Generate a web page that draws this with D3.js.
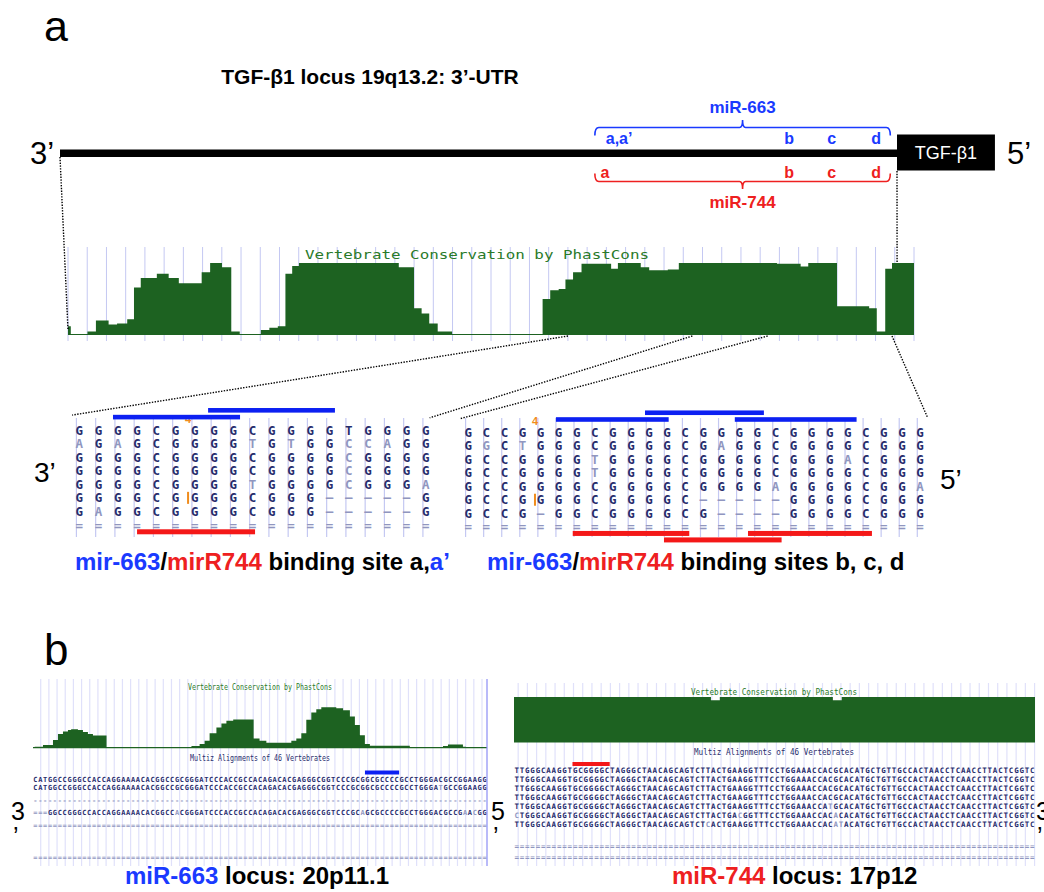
<!DOCTYPE html>
<html>
<head>
<meta charset="utf-8">
<script src="https://cdn.jsdelivr.net/npm/d3@7"></script>
<style>
  body { margin: 0; background: #fff; }
  svg { display: block; }
  .sans { font-family: "Liberation Sans", Arial, sans-serif; }
  .mono { font-family: "DejaVu Sans Mono", monospace; }
</style>
</head>
<body>
<svg id="figure" width="1044" height="892"></svg>
<script>
// ---------- data ----------

// 3'-UTR schematic, positions in % of the UTR (3' end = 0)
const utrGene = [100, 111.7];
const mir663Span = [63.9, 99.2];
const mir744Span = [63.9, 99.2];
const mir663Sites = ["a,a\u2019", "b", "c", "d"];
const mir663SitePos = [66.8, 87.1, 92.2, 97.5];
const mir744Sites = ["a", "b", "c", "d"];
const mir744SitePos = [65.1, 87.1, 92.2, 97.5];

// PhastCons over the UTR: step start (%) and score (0..1)
const consUtrPos = [0, 0.33, 2.3, 3.3, 4.8, 5.8, 7.0, 7.8, 8.6, 10.5, 11.9, 13.1, 15.8, 16.8, 18.2, 19.3, 20.3, 22.8, 23.8, 24.8,
  25.7, 26.5, 27.3, 39.1, 40.9, 41.8, 42.7, 43.7, 45.4, 56.1, 57.0, 58.0, 58.8, 59.7, 60.7, 64.2, 65.0, 67.7, 68.7, 70.9,
  72.2, 83.8, 86.6, 87.5, 90.9, 94.7, 95.6, 96.6, 97.4, 100];
const consUtrScore = [0.12, 0.014, 0.05, 0.2, 0.145, 0.16, 0.22, 0.66, 0.79, 0.85, 0.79, 0.72, 0.87, 1.0, 0.94, 0.05, 0.014, 0.07, 0.1, 0.12,
  0.85, 0.96, 1.0, 0.94, 0.37, 0.3, 0.16, 0.05, 0.014, 0.5, 0.62, 0.64, 0.77, 0.87, 0.99, 0.92, 1.0, 0.94, 0.9, 0.91,
  1.0, 0.99, 0.95, 1.0, 0.4, 0.37, 0.05, 0.92, 1.0, 1.0];

// windows of the track that are expanded below (%)
const zoomWindows = [[59.1, 73.8], [82.7, 97.4]];

// base alignments; lower case = diverged base (faded)
const alignSiteA = [
  "GGGGCGGGGCGGGGTGGGG",
  "aGaGCGGGGtGtGGccaGG",
  "GGGGCGGGGCGGGGcGGGG",
  "GGGGCGGGGCGGGGcGGGG",
  "GGGGCGGGGtGGGGcGGGa",
  "GGGGCGGGGCGGG-----G",
  "GaGGCGGGGCGGG-----G",
  "==================="
];
const alignSiteBCD = [
  "GCCGGGGCGGGGCGGGGCGGGGCGGG",
  "GgCtGGGCGGGGCGaGGCGGGGCGGG",
  "GCCGGGGtGGGGCGGGGCGGGaCGGG",
  "GCCGGGGtGGGGCGGGGCGGGGCGGG",
  "GCCGGGGCGGGGCGGGGaGGGGCGGa",
  "GCCGGGGCGGGGC-----GGGGCGGG",
  "GCCG-GGCGGGGCG----GGGGCGGG",
  "=========================="
];
// insertion marks [column, row]
const insertSiteA = [5.65, 5];
const insertSiteBCD = [3.69, 5];
// seed matches [from column, to column, track]
const mir663BarsA = [[1.75, 8.35, 1], [6.69, 13.28, 0]];
const mir744BarsA = [[3.0, 9.13, 0]];
const mir663BarsBCD = [[4.85, 11.09, 1], [9.78, 16.36, 0], [14.75, 21.49, 1]];
const mir744BarsBCD = [[5.78, 12.23, 0], [10.83, 17.34, 1], [15.48, 22.34, 0]];

// miR-663 locus (20p11.1)
const cons663Pos = [0, 0.37, 2.2, 4.4, 5.5, 6.6, 7.7, 8.4, 9.9, 11.0, 12.1, 13.2, 16.2, 33.8, 34.9, 36.7, 37.8, 38.9, 40.4, 41.5,
  42.6, 44.1, 48.6, 49.9, 51.4, 56.9, 58.0, 59.1, 60.2, 61.3, 62.4, 63.5, 66.8, 68.3, 69.8, 70.9, 72.0, 73.1, 74.2, 83.0,
  90.3, 91.4, 94.7, 95.4, 100];
const cons663Score = [0, 0.025, 0.066, 0.19, 0.34, 0.40, 0.44, 0.455, 0.44, 0.39, 0.34, 0.30, 0, 0.008, 0.04, 0.09, 0.17, 0.36, 0.50, 0.60,
  0.67, 0.70, 0.23, 0.17, 0.12, 0.17, 0.23, 0.36, 0.69, 0.87, 0.95, 1.0, 0.975, 0.93, 0.77, 0.56, 0.31, 0.09, 0.05, 0,
  0.04, 0.08, 0.025, 0, 0];
const seq663 = [
  "CATGGCCGGGCCACCAGGAAAACACGGCCGCGGGATCCCACCGCCACAGACACGAGGGCGGTCCCGCGGCGCCCCGCCTGGGACGCCGGAAGG",
  "CATGGCCGGGCCACCAGGAAAACACGGCCGCGGGATCCCACCGCCACAGACACGAGGGCGGTCCCGCGGCGCCCCGCCTGGGAtGCCGGAAGG",
  "---------------------------------------------------------------------------------------------",
  "===GGCCGGGCCACCAGGAAAACACGGCCaCGGGATCCCACCGCCACAGACACGAGGGCGGTCCCGCaGCGCCCCGCCTGGGACGCCGaAcGG",
  "=============================================================================================",
  "============================================================================================="
];
const seq663Rows = [0, 1, 2.47, 3.88, 5.47, 9.18];
const seq663Bar = [68, 75];

// miR-744 locus (17p12)
const cons744Pos = [0, 37.8, 39.5, 61.2, 62.9, 100];
const cons744Score = [1, 0.93, 1, 0.93, 1, 1];
const seq744 = [
  "TTGGGCAAGGTGCGGGGCTAGGGCTAACAGCAGTCTTACTGAAGGTTTCCTGGAAACCACGCACATGCTGTTGCCACTAACCTCAACCTTACTCGGTC",
  "TTGGGCAAGGTGCGGGGCTAGGGCTAACAGCAGTCTTACTGAAGGTTTCCTGGAAACCACGCACATGCTGTTGCCACTAACCTCAACCTTACTCGGTC",
  "TTGGGCAAGGTGCGGGGCTAGGGCTAACAGCAGTCTTACTGAAGGTTTCCTGGAAACCACGCACATGCTGTTGCCACTAACCTCAACCTTACTCGGTC",
  "TTGGGCAAGGTGCGGGGCTAGGGCTAACAGCAGTCTTACTGAAGGTTTCCTGGAAACCACGCACATGCTGTTGCCACTAACCTCAACCTTACTCGGTC",
  "TTGGGCAAGGTGCGGGGCTAGGGCTAACAGCAGTCTTACTGAAGGTTTCCTGGAAACCAtGCACATGCTGTTGCCACTAACCTCAACCTTACTCGGTC",
  "cTGGGCAAGGTGCGGGGCTAGGGCTAACAGCAGTCTTACTGAcGGTTTCCTGGAAACCACaCACATGCTGTTGCCACTAACCTCAACCTTACTCGGTC",
  "TTGGGCAAGGTGCGGGGCTAGGGCTAACAGCAGTCTcACTGAAGGTTTCCTGGAAACCACatACATGCTGTTGCCACTAACCTCAACCTTACTCGGTC",
  "==================================================================================================",
  "=================================================================================================="
];
const seq744Rows = [0, 1, 2, 3, 4, 5, 6, 8.5, 9.7];
const seq744Bar = [11, 18];

// ---------- drawing ----------
const colors = {
  navy: "#272c6c", faded: "#9096bf", grid: "#c4c8f2", gridLight: "#e0e1fa",
  green: "#1d6221", blue: "#1a3aff", red: "#ee2020",
  barBlue: "#0c20f2", barRed: "#f41818", orange: "#f08c1c"
};
const svg = d3.select("#figure");

function label(parent, x, y, txt, size, opts = {}) {
  return parent.append("text").attr("class", opts.mono ? "mono" : "sans")
    .attr("x", x).attr("y", y)
    .attr("font-size", size)
    .attr("font-weight", opts.bold ? "bold" : null)
    .attr("text-anchor", opts.anchor || "start")
    .attr("fill", opts.fill || "#000")
    .text(txt);
}

function dotted(x1, y1, x2, y2) {
  svg.append("line")
    .attr("x1", x1).attr("y1", y1).attr("x2", x2).attr("y2", y2)
    .attr("stroke", "#000").attr("stroke-width", 1.4)
    .attr("stroke-dasharray", "1.4,1.4");
}

function isFaded(c) {
  return c === "-" || c === "=" || c !== c.toUpperCase();
}

// ---- panel a: UTR schematic ----
label(svg, 44, 41, "a", 43);
label(svg, 370, 84, "TGF-\u03b21 locus 19q13.2: 3\u2019-UTR", 21, {bold: true, anchor: "middle"});

const utrX = d3.scaleLinear().domain([0, 100]).range([60, 897]);

svg.append("rect")
  .attr("x", utrX(0)).attr("y", 149.5)
  .attr("width", utrX(100) - utrX(0)).attr("height", 7.5)
  .attr("fill", "#000");
svg.append("rect")
  .attr("x", utrX(utrGene[0])).attr("y", 134.5)
  .attr("width", utrX(utrGene[1]) - utrX(utrGene[0])).attr("height", 36)
  .attr("fill", "#000");
label(svg, (utrX(utrGene[0]) + utrX(utrGene[1])) / 2, 159, "TGF-\u03b21", 18, {anchor: "middle", fill: "#fff"});
label(svg, 30, 164, "3\u2019", 31);
label(svg, 1007, 164, "5\u2019", 31);

function bracket(span, y, dir, color) {
  const x0 = utrX(span[0]), x1 = utrX(span[1]), xm = (x0 + x1) / 2;
  const hook = 8 * dir, tip = -7.5 * dir;
  svg.append("path")
    .attr("d", `M${x0},${y + hook} Q${x0},${y} ${x0 + 4},${y} L${xm - 3},${y} Q${xm},${y} ${xm},${y + tip}` +
               ` Q${xm},${y} ${xm + 3},${y} L${x1 - 4},${y} Q${x1},${y} ${x1},${y + hook}`)
    .attr("fill", "none").attr("stroke", color).attr("stroke-width", 1.6);
  return xm;
}
const mid663 = bracket(mir663Span, 127.5, 1, colors.blue);
const mid744 = bracket(mir744Span, 181.5, -1, colors.red);
label(svg, mid663, 113, "miR-663", 17, {bold: true, anchor: "middle", fill: colors.blue});
label(svg, mid744, 208, "miR-744", 17, {bold: true, anchor: "middle", fill: colors.red});

svg.append("g").selectAll("text").data(mir663Sites).join("text")
  .attr("class", "sans").attr("font-size", 16).attr("font-weight", "bold")
  .attr("text-anchor", "middle").attr("fill", colors.blue)
  .attr("x", (d, i) => utrX(mir663SitePos[i])).attr("y", 144)
  .text(d => d);
svg.append("g").selectAll("text").data(mir744Sites).join("text")
  .attr("class", "sans").attr("font-size", 16).attr("font-weight", "bold")
  .attr("text-anchor", "middle").attr("fill", colors.red)
  .attr("x", (d, i) => utrX(mir744SitePos[i])).attr("y", 178)
  .text(d => d);

// ---- panel a: conservation track ----
const consX = d3.scaleLinear().domain([0, 100]).range([68, 914]);
const consY = d3.scaleLinear().domain([0, 1]).range([335, 263]);

svg.append("g").selectAll("line").data(d3.range(0, 45)).join("line")
  .attr("x1", i => consX(i * 100 / 44)).attr("x2", i => consX(i * 100 / 44))
  .attr("y1", 247).attr("y2", 341)
  .attr("stroke", colors.grid).attr("stroke-width", 1);

label(svg, 305, 259, "Vertebrate Conservation by PhastCons", 12, {mono: true, fill: "#2a7a2a"})
  .attr("textLength", 344).attr("lengthAdjust", "spacingAndGlyphs");

const consUtr = consUtrPos.map((p, i) => ({p, v: consUtrScore[i]}));
svg.append("path")
  .datum(consUtr)
  .attr("fill", colors.green)
  .attr("d", d3.area().curve(d3.curveStepAfter)
    .x(d => consX(d.p)).y0(consY(0)).y1(d => consY(d.v)));

dotted(utrX(0), 157, consX(0), 330);
dotted(utrX(100), 171, consX(98), 263);

// ---- panel a: alignments ----
const colA = d3.scaleLinear().domain([0, 18]).range([79.3, 425.8]);
const rowA = d3.scaleLinear().domain([0, 7]).range([430, 525]);
const colBCD = d3.scaleLinear().domain([0, 25]).range([468.3, 920]);
const rowBCD = d3.scaleLinear().domain([0, 7]).range([432.3, 526.7]);

dotted(consX(zoomWindows[0][0]), 336, colA(-0.37), rowA(-1.1));
dotted(consX(zoomWindows[0][1]), 336, colA(18.2), rowA(-0.9));
dotted(consX(zoomWindows[1][0]), 336, colBCD(-0.48), rowBCD(-1.0));
dotted(consX(zoomWindows[1][1]), 336, colBCD(25.4), rowBCD(-1.15));

function drawAlignment(rows, col, row, insert, blueBars, redBars) {
  const g = svg.append("g");
  const ncol = rows[0].length;
  g.append("g").selectAll("line").data(d3.range(0, ncol)).join("line")
    .attr("x1", i => col(i - 0.15)).attr("x2", i => col(i - 0.15))
    .attr("y1", 418).attr("y2", 537)
    .attr("stroke", colors.grid).attr("stroke-width", 1.2);

  rows.forEach((r, ri) => {
    g.append("g").selectAll("text").data(r.split("")).join("text")
      .attr("class", "mono").attr("font-size", 12.5).attr("font-weight", "bold")
      .attr("text-anchor", "middle").attr("dy", "0.36em")
      .attr("x", (c, i) => col(i)).attr("y", row(ri))
      .attr("fill", c => isFaded(c) ? colors.faded : colors.navy)
      .text(c => c === "-" ? "\u2013" : c.toUpperCase());
  });

  // insertion: count above, tick in the row
  label(g, col(insert[0]), row(-0.55), "4", 11, {bold: true, anchor: "middle", fill: colors.orange});
  g.append("rect")
    .attr("x", col(insert[0]) - 1).attr("y", row(insert[1]) - 6)
    .attr("width", 2).attr("height", 12)
    .attr("fill", colors.orange);

  const trackBlue = [row(-1.45), row(-0.95)];
  const trackRed = [row(7.5), row(7.98)];
  g.append("g").selectAll("rect").data(blueBars).join("rect")
    .attr("x", d => col(d[0])).attr("width", d => col(d[1]) - col(d[0]))
    .attr("y", d => trackBlue[d[2]] - 2.3).attr("height", 4.6)
    .attr("fill", colors.barBlue);
  g.append("g").selectAll("rect").data(redBars).join("rect")
    .attr("x", d => col(d[0])).attr("width", d => col(d[1]) - col(d[0]))
    .attr("y", d => trackRed[d[2]] - 2.5).attr("height", 5)
    .attr("fill", colors.barRed);
}
drawAlignment(alignSiteA, colA, rowA, insertSiteA, mir663BarsA, mir744BarsA);
drawAlignment(alignSiteBCD, colBCD, rowBCD, insertSiteBCD, mir663BarsBCD, mir744BarsBCD);

label(svg, 34, 482, "3\u2019", 28);
label(svg, 940, 489, "5\u2019", 28);

function caption(x, y, parts, size) {
  const t = svg.append("text").attr("class", "sans")
    .attr("x", x).attr("y", y).attr("font-size", size).attr("font-weight", "bold");
  parts.forEach(p => t.append("tspan").attr("fill", p[1]).text(p[0]));
}
caption(75, 570, [["mir-663", colors.blue], ["/", "#000"], ["mirR744", colors.red],
  [" binding site a,", "#000"], ["a\u2019", colors.blue]], 24);
caption(487, 570, [["mir-663", colors.blue], ["/", "#000"], ["mirR744", colors.red],
  [" binding sites b, c, d", "#000"]], 24);

// ---- panel b ----
label(svg, 44, 665, "b", 44);

function drawLocus(opts) {
  const g = svg.append("g");
  const x = d3.scaleLinear().domain([0, 100]).range(opts.xRange);
  const y = d3.scaleLinear().domain([0, 1]).range(opts.yRange);
  const sx = d3.scaleLinear().domain([0, opts.seqs[0].length]).range(opts.xRange);
  const sy = d3.scaleLinear().domain([0, 1]).range([opts.seqTop, opts.seqTop + opts.rowStep]);

  g.append("g").selectAll("line").data(d3.range(opts.gridStart, 100, opts.gridStep)).join("line")
    .attr("x1", d => x(d)).attr("x2", d => x(d))
    .attr("y1", opts.gridTop).attr("y2", 866)
    .attr("stroke", colors.gridLight).attr("stroke-width", 1.2);

  const pts = opts.consPos.map((p, i) => ({p, v: opts.consScore[i]}));
  g.append("path").datum(pts)
    .attr("fill", colors.green)
    .attr("d", d3.area().curve(d3.curveStepAfter)
      .x(d => x(d.p)).y0(y(0)).y1(d => y(d.v)));
  g.append("line")
    .attr("x1", x(0)).attr("x2", x(100)).attr("y1", y(0)).attr("y2", y(0))
    .attr("stroke", colors.green).attr("stroke-width", 1.2);

  label(g, opts.titleX[0], opts.titleY, "Vertebrate Conservation by PhastCons", 8, {mono: true, fill: "#2a7a2a"})
    .attr("textLength", opts.titleX[1] - opts.titleX[0]).attr("lengthAdjust", "spacingAndGlyphs");
  label(g, opts.multizX[0], opts.multizY, "Multiz Alignments of 46 Vertebrates", 8, {mono: true, fill: colors.navy})
    .attr("textLength", opts.multizX[1] - opts.multizX[0]).attr("lengthAdjust", "spacingAndGlyphs");

  opts.seqs.forEach((s, ri) => {
    g.append("g").selectAll("text").data(s.split("")).join("text")
      .attr("class", "mono").attr("font-size", opts.seqFont).attr("font-weight", "bold")
      .attr("text-anchor", "middle").attr("dy", "0.36em")
      .attr("x", (c, i) => sx(i + 0.5)).attr("y", sy(opts.seqRows[ri]))
      .attr("fill", c => isFaded(c) ? colors.faded : colors.navy)
      .text(c => c.toUpperCase());
  });

  g.append("rect")
    .attr("x", sx(opts.bar[0])).attr("width", sx(opts.bar[1]) - sx(opts.bar[0]))
    .attr("y", opts.barY - 2).attr("height", 4)
    .attr("fill", opts.barColor);
  return g;
}

drawLocus({
  xRange: [33, 487], yRange: [747.7, 707.3],
  consPos: cons663Pos, consScore: cons663Score,
  gridStart: 1.7, gridStep: 1.8, gridTop: 679,
  titleX: [188, 332], titleY: 690, multizX: [190, 330], multizY: 761,
  seqs: seq663, seqRows: seq663Rows, seqTop: 779, rowStep: 8.5, seqFont: 7,
  bar: seq663Bar, barY: 772.5, barColor: colors.barBlue
});
svg.append("line")
  .attr("x1", 487).attr("x2", 487).attr("y1", 679).attr("y2", 866)
  .attr("stroke", "#8a8cf5").attr("stroke-width", 1.2);

drawLocus({
  xRange: [514, 1035], yRange: [742, 697],
  consPos: cons744Pos, consScore: cons744Score,
  gridStart: 0.8, gridStep: 1.77, gridTop: 683,
  titleX: [691, 857], titleY: 695, multizX: [694, 854], multizY: 755,
  seqs: seq744, seqRows: seq744Rows, seqTop: 770, rowStep: 9, seqFont: 7.5,
  bar: seq744Bar, barY: 764, barColor: colors.barRed
});

label(svg, 11, 820, "3", 25);
label(svg, 13, 845, "\u2019", 25);
label(svg, 491, 820, "5", 25);
label(svg, 493, 845, "\u2019", 25);
label(svg, 1036, 820, "3", 25);
label(svg, 1037, 845, "\u2019", 25);

caption(125, 884, [["miR-663", colors.blue], [" locus: 20p11.1", "#000"]], 24);
caption(672, 884, [["miR-744", colors.red], [" locus: 17p12", "#000"]], 24);
</script>
</body>
</html>
